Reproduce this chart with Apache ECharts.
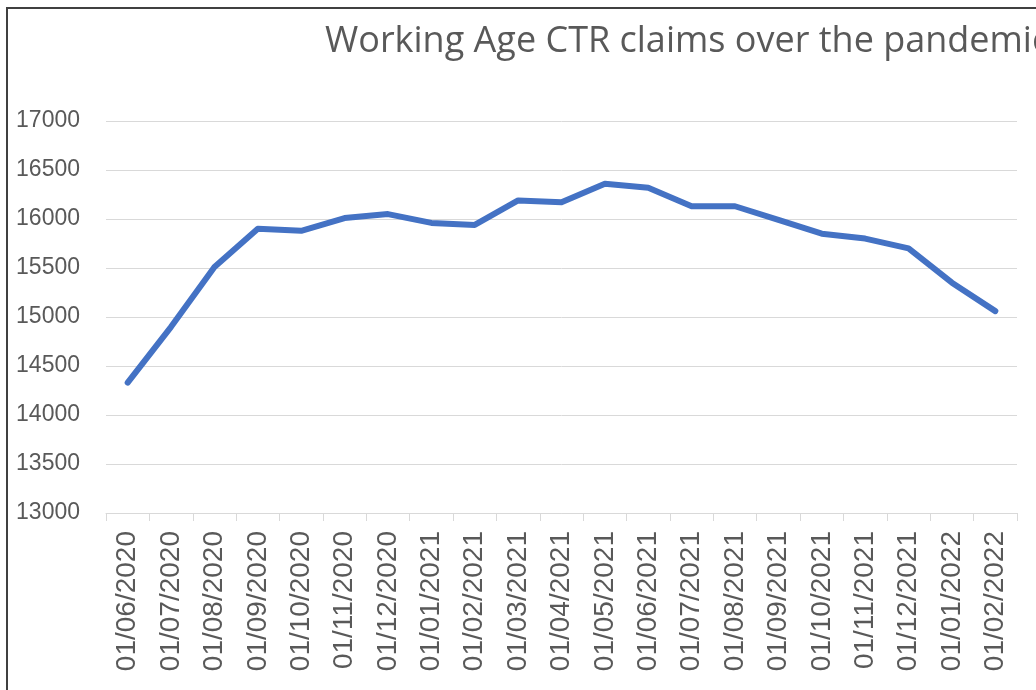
<!DOCTYPE html>
<html>
<head>
<meta charset="utf-8">
<script src="https://cdn.jsdelivr.net/npm/echarts@6/dist/echarts.min.js"></script>
<style>
  html, body { margin: 0; padding: 0; background: #fff; }
  #main { width: 1036px; height: 690px; }
</style>
</head>
<body>
<div id="main"></div>
<script>
// months (first of each month)
var months = [
  '01/06/2020', '01/07/2020', '01/08/2020', '01/09/2020', '01/10/2020',
  '01/11/2020', '01/12/2020', '01/01/2021', '01/02/2021', '01/03/2021',
  '01/04/2021', '01/05/2021', '01/06/2021', '01/07/2021', '01/08/2021',
  '01/09/2021', '01/10/2021', '01/11/2021', '01/12/2021', '01/01/2022',
  '01/02/2022'
];
// working age CTR claims
var claims = [
  14330, 14900, 15510, 15900, 15880,
  16010, 16050, 15960, 15940, 16190,
  16170, 16360, 16320, 16130, 16130,
  15990, 15850, 15800, 15700, 15350,
  15060
];
var yMin = 13000, yMax = 17000, yStep = 500;

var chart = echarts.init(document.getElementById('main'));

var option = {
  animation: false,
  title: {
    text: 'Working Age CTR claims over the pandemic',
    left: 320,
    top: 19,
    textStyle: {
      fontFamily: 'Open Sans',
      fontWeight: 'normal',
      fontSize: 36,
      color: '#595959'
    }
  },
  graphic: [{
    type: 'rect',
    shape: { x: 7, y: 8, width: 1200, height: 900 },
    style: { fill: null, stroke: '#404040', lineWidth: 2 },
    silent: true
  }],
  grid: {
    left: 106,
    right: 19,
    top: 121,
    bottom: 177
  },
  xAxis: {
    type: 'category',
    data: months,
    boundaryGap: true,
    axisLine: { lineStyle: { color: '#d9d9d9', width: 1 } },
    axisTick: { show: true, length: 8, lineStyle: { color: '#d9d9d9' } },
    axisLabel: {
      rotate: 90,
      margin: 18,
      color: '#595959',
      fontFamily: 'Liberation Sans',
      fontSize: 28,
      interval: 0
    }
  },
  yAxis: {
    type: 'value',
    min: yMin,
    max: yMax,
    interval: yStep,
    axisLine: { show: false },
    axisTick: { show: false },
    axisLabel: {
      margin: 26,
      color: '#595959',
      fontFamily: 'Liberation Sans',
      fontSize: 23,
      formatter: function (v) { return String(v); }
    },
    splitLine: { lineStyle: { color: '#d9d9d9', width: 1 } }
  },
  series: [{
    type: 'line',
    data: claims,
    symbol: 'none',
    lineStyle: { color: '#4472c4', width: 6, cap: 'round', join: 'round' }
  }]
};

chart.setOption(option);
</script>
</body>
</html>
